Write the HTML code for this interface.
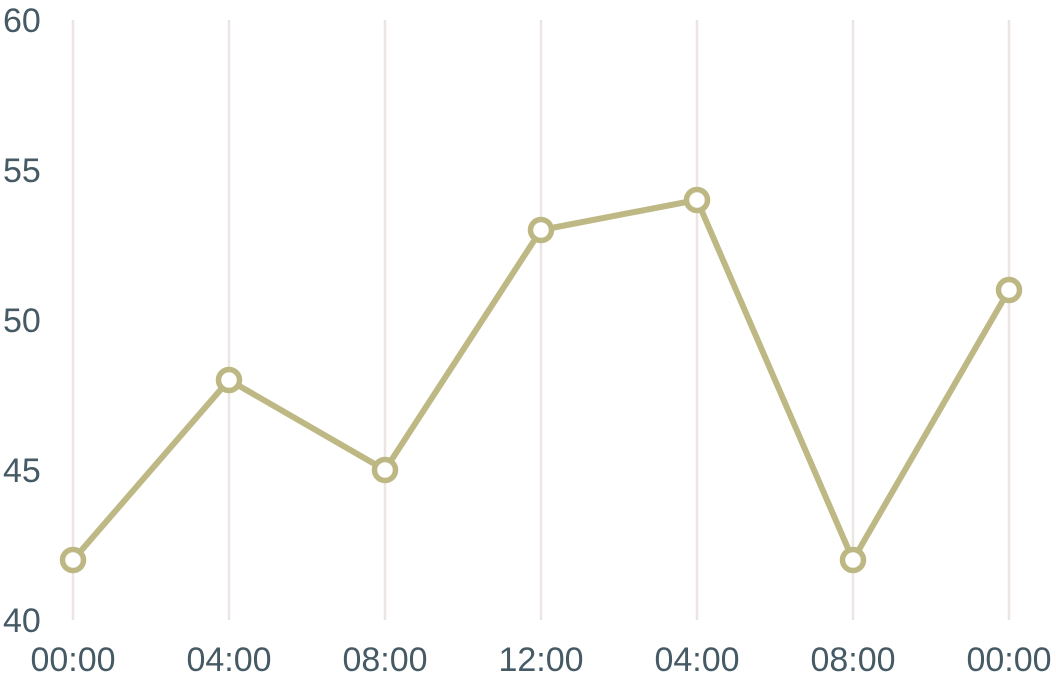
<!DOCTYPE html>
<html><head><meta charset="utf-8"><style>
body{margin:0;background:#fff;width:1056px;height:681px;overflow:hidden}
text{font-family:"Liberation Sans",sans-serif;fill:#455a64;font-size:34px}
</style></head><body>
<svg id="chart" width="1056" height="681" xmlns="http://www.w3.org/2000/svg">
<g id="grid"></g><g id="yax"></g><g id="xax"></g><g id="series"></g>
</svg>
<script>
const categories=["00:00","04:00","08:00","12:00","04:00","08:00","00:00"];
const values=[42,48,45,53,54,42,51];
const yTicks=[40,45,50,55,60];
const NS="http://www.w3.org/2000/svg";
const x=i=>73+i*156;
const y=v=>620-(v-40)*30;
function mk(t,a,p){const e=document.createElementNS(NS,t);for(const k in a)e.setAttribute(k,a[k]);p.appendChild(e);return e;}
const grid=document.getElementById('grid'),yax=document.getElementById('yax'),xax=document.getElementById('xax'),ser=document.getElementById('series');
categories.forEach((c,i)=>{
 const l=mk('line',{x1:x(i),x2:x(i),y1:20,y2:620,stroke:'#ebe6e2','stroke-width':2.5},grid);
 
 
 const t=mk('text',{x:x(i),y:671,'text-anchor':'middle'},xax);t.textContent=c;
 
 
});
yTicks.forEach(v=>{
 const t=mk('text',{x:3,y:y(v)+12},yax);t.textContent=v;
 
 
});
const pl=mk('polyline',{points:values.map((v,i)=>x(i)+','+y(v)).join(' '),fill:'none',stroke:'#a39d55','stroke-opacity':0.72,'stroke-width':6,'stroke-linejoin':'round'},ser);


values.forEach((v,i)=>{
 const c=mk('circle',{cx:x(i),cy:y(v),r:10.5,fill:'#fff',stroke:'#bdb883','stroke-width':5.5},ser);
 
 
});
</script>
</body></html>
